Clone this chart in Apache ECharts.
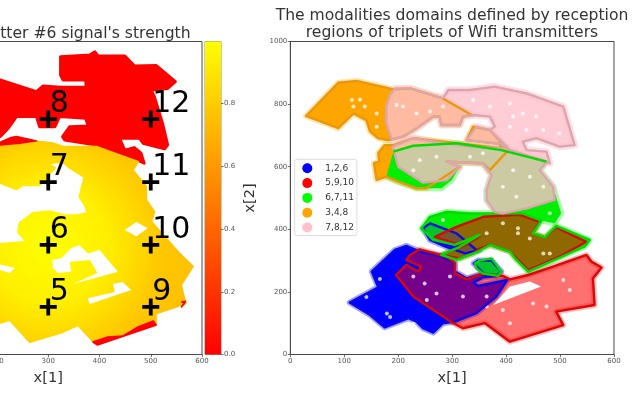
<!DOCTYPE html>
<html>
<head>
<meta charset="utf-8">
<style>
html,body{margin:0;padding:0;background:#fff;overflow:hidden}
#c{width:640px;height:393px;filter:blur(0.35px)}
</style>
<script src="https://cdn.jsdelivr.net/npm/echarts@6/dist/echarts.min.js"></script>
</head>
<body>
<div id="c"></div>
<script>
// ---- left panel: signal strength regions, in data units ----
const weakRegion = [[140,920],[206,877],[277,840],[290,858],[324,854],[374,854],[373,877],[329,877],[324,893],[324,951],[381,957],[391,967],[397,954],[449,954],[468,922],[511,923],[548,872],[533,850],[501,845],[507,824],[523,738],[533,670],[527,657],[485,675],[478,691],[439,691],[449,653],[468,661],[481,643],[487,611],[475,621],[426,648],[394,669],[332,685],[328,696],[342,728],[378,730],[373,755],[322,760],[313,728],[283,728],[277,760],[238,760],[222,723],[206,696],[140,685]];
const weakBumps = [[195,660],[206,675],[228,691],[238,694],[277,680],[283,669],[240,650]];
const strongRegion = [[140,664],[206,664],[245,669],[287,680],[310,674],[329,664],[394,664],[426,645],[475,616],[465,589],[491,536],[491,494],[507,456],[501,424],[556,323],[582,281],[559,222],[568,163],[510,131],[510,100],[391,36],[358,94],[329,72],[264,40],[225,110],[205,100],[140,100],[140,353],[205,353],[258,360],[241,391],[244,420],[270,452],[303,458],[332,445],[355,445],[377,452],[371,478],[361,503],[365,532],[371,567],[342,596],[328,615],[299,611],[313,596],[283,541],[251,541],[238,528],[205,549],[140,549]];
const holeCentre = [[308,302],[326,308],[345,340],[361,350],[377,323],[400,334],[436,264],[348,225],[396,260],[381,302],[342,296],[345,264],[319,260],[309,276]];
const holeLower = [[377,180],[430,200],[426,225],[445,232],[462,206],[381,161]];
const holeUpper = [[449,398],[472,423],[494,403],[472,378]];
const holeLeft = [[195,292],[235,276],[225,260],[195,276]];
const edgeBottom = [[387,40],[396,30],[511,94],[505,107],[475,88],[445,59],[416,56]];
const edgeRight = [[566,164],[560,152],[568,170],[560,168]];
const transmitterX = [300,300,300,300,500,500,500,500];
const transmitterY = [152,350,551,752,152,350,551,752];
const transmitterLabels = ['5','6','7','8','9','10','11','12'];
const strengthCentre = [300,350];
const colorbarTop = 0.998;

// ---- right panel: modality domains, in data units ----
const blueMain = [[110,166],[163,215],[151,265],[194,334],[215,347],[240,329],[283,313],[305,291],[305,265],[327,243],[358,259],[340,291],[348,300],[373,300],[391,265],[382,251],[358,247],[340,230],[348,219],[402,238],[382,185],[345,132],[305,105],[283,100],[265,70],[246,84],[234,105],[219,116],[175,87],[148,126]];
const blueUpper = [[246,403],[259,419],[308,387],[345,334],[351,334],[324,323],[289,344],[259,366]];
const redMain = [[196,254],[215,286],[237,265],[243,281],[215,302],[222,318],[240,336],[289,313],[305,293],[305,259],[327,240],[358,259],[394,251],[407,240],[441,254],[487,281],[549,318],[558,297],[577,278],[561,243],[564,158],[493,137],[506,94],[407,41],[361,100],[320,84],[302,100],[265,142],[228,185]];
const redUpper = [[268,376],[308,408],[358,440],[425,446],[462,424],[450,387],[472,374],[493,406],[549,360],[499,313],[441,270],[407,329],[370,350],[351,339],[339,323],[314,307],[280,318],[317,344],[351,376],[314,350]];
const redGap = [[376,158],[465,217],[444,233],[407,217]];
const greenLower = [[243,403],[259,440],[289,456],[333,451],[382,451],[431,451],[465,428],[450,387],[472,374],[493,411],[555,366],[546,345],[441,265],[419,302],[407,329],[370,350],[348,329],[308,302],[280,318],[314,344],[351,382],[305,350],[265,366]];
const greenUpper = [[191,648],[228,667],[308,675],[391,653],[475,616],[462,589],[487,536],[502,451],[490,419],[465,428],[431,451],[382,451],[364,494],[364,525],[373,574],[357,611],[290,616],[314,600],[299,557],[280,531],[234,531],[200,552],[178,568]];
const greenLoop = [[342,291],[351,300],[373,307],[391,265],[385,251],[357,259],[345,275]];
const orangeUpper = [[29,762],[89,868],[123,874],[191,847],[222,850],[283,818],[336,765],[320,760],[314,733],[280,733],[277,760],[265,760],[234,723],[209,696],[181,685],[163,691],[148,712],[141,749],[117,770],[89,723]];
const orangeLower = [[191,669],[175,669],[163,643],[165,616],[155,611],[160,558],[178,568],[200,552],[234,531],[252,531],[296,579],[314,600],[290,616],[357,611],[370,589],[404,653],[370,717],[339,728],[327,685],[388,673],[391,659],[308,675],[228,691]];
const pinkLeft = [[336,765],[320,760],[314,733],[280,733],[277,760],[265,760],[234,723],[209,696],[188,687],[178,739],[178,792],[185,829],[194,850],[222,850],[283,818]];
const pinkRight = [[283,818],[293,845],[333,845],[379,856],[438,834],[506,792],[527,669],[499,664],[456,691],[431,680],[438,653],[475,648],[481,611],[407,653],[401,664],[370,717],[379,728],[370,760],[336,765]];
const pinkLower = [[190,664],[228,691],[283,675],[333,664],[391,659],[407,653],[475,616],[462,589],[487,536],[490,494],[438,467],[394,451],[379,456],[364,494],[364,525],[373,574],[357,611],[290,616],[314,600],[290,557],[246,549],[200,600]];
const pinkSmall = [[327,685],[345,728],[370,717],[401,664],[388,673]];
const specks = [[129,815],[117,792],[114,813],[138,792],[160,770],[160,728],[197,797],[209,792],[234,770],[259,776],[283,792],[339,813],[370,792],[407,802],[413,760],[431,770],[456,760],[469,717],[499,707],[407,728],[438,717],[413,589],[444,568],[469,536],[394,536],[419,504],[271,632],[240,621],[333,632],[357,643],[228,589],[249,227],[271,195],[320,185],[296,249],[364,185],[228,249],[253,174],[422,403],[444,371],[481,323],[469,323],[394,419],[364,387],[422,387],[407,100],[450,163],[506,238],[518,206],[475,153],[394,142],[364,153],[141,184],[179,131],[166,241],[185,120],[228,99],[481,451],[283,430]];
const legendNames = ['1,2,6','5,9,10','6,7,11','3,4,8','7,8,12'];
const legendColors = ['#0000ff','#ff0000','#00ff00','#ffa500','#ffc0cb'];

const FONT = 'DejaVu Sans';
const DARK = '#4a4a4a';
const TEXT = '#333333';
const TICK = { show:true, length:2.5, lineStyle:{color:DARK,width:0.8} };
const LABEL = { color:'#555555', fontSize:7, fontFamily:FONT, margin:3, formatter:function(v){ return String(v); } };

function polySeries(name, idx, polys, style, open){
  return {
    type:'custom', name, coordinateSystem:'cartesian2d', xAxisIndex:idx, yAxisIndex:idx,
    clip:true, silent:true, z: style.z || 2,
    itemStyle:{ color: style.fill || style.stroke },
    data: polys.map(function(p){ return p[0]; }),
    renderItem:function(params, api){
      const pts = polys[params.dataIndex].map(function(p){ return api.coord(p); });
      const fill = style.fillFn ? style.fillFn(api) : style.fill;
      const stroke = style.fillFn ? fill : style.stroke;
      const type = open ? 'polyline' : 'polygon';
      return { type, shape:{points:pts}, style:{
        fill: open ? null : (fill || null),
        stroke: stroke || null,
        lineWidth: style.lineWidth || 0,
        lineJoin:'round',
        opacity: style.opacity === undefined ? 1 : style.opacity
      } };
    }
  };
}
function strengthFill(api){
  const c = api.coord(strengthCentre);
  return new echarts.graphic.RadialGradient(c[0], c[1], 150, [
    {offset:0, color:'#ffff00'},
    {offset:0.4, color:'#ffee00'},
    {offset:0.75, color:'#ffc800'},
    {offset:1, color:'#ffc000'}
  ], true);
}
const blueAll = [blueMain, blueUpper], redAll = [redMain, redUpper], greenAll = [greenLower, greenUpper];
const orangeAll = [orangeUpper, orangeLower], pinkAll = [pinkLeft, pinkRight, pinkLower, pinkSmall];

const series = [
  // left panel
  polySeries('weak', 0, [weakRegion, weakBumps], {fill:'#ff0000', stroke:'#ff0000', lineWidth:3}),
  polySeries('strong', 0, [strongRegion], {fillFn:strengthFill, lineWidth:2, z:3}),
  polySeries('holes', 0, [holeCentre, holeLower, holeUpper, holeLeft], {fill:'#ffffff', z:4}),
  polySeries('edge', 0, [edgeBottom, edgeRight], {fill:'#ff0000', stroke:'#ff0000', lineWidth:1.5, z:4}),
  {
    type:'scatter', xAxisIndex:0, yAxisIndex:0, name:'transmitters', z:6, silent:true,
    data: transmitterX.map(function(x,i){ return {value:[x, transmitterY[i]], label:{formatter:transmitterLabels[i]}}; }),
    symbol:'path://M7 0h4v7h7v4h-7v7h-4v-7h-7v-4h7z', symbolSize:17,
    itemStyle:{color:'#000', opacity:1},
    label:{show:true, position:[10,8.5], align:'left', verticalAlign:'bottom', fontSize:30, fontFamily:FONT, color:'#000'}
  },
  // colourbar
  {
    type:'bar', xAxisIndex:1, yAxisIndex:1, name:'strength', silent:true, barWidth:'100%',
    data:[colorbarTop],
    itemStyle:{color:new echarts.graphic.LinearGradient(0,1,0,0,[{offset:0,color:'#ff0000'},{offset:1,color:'#ffff00'}])}
  },
  // right panel soft halos
  polySeries('blueHalo', 2, blueAll, {stroke:'#0000ff', lineWidth:6, opacity:0.35, z:1}),
  polySeries('redHalo', 2, redAll, {stroke:'#ff0000', lineWidth:6, opacity:0.25, z:1}),
  polySeries('greenHalo', 2, greenAll, {stroke:'#00ff00', lineWidth:6, opacity:0.35, z:1}),
  polySeries('orangeHalo', 2, orangeAll, {stroke:'#ffa500', lineWidth:6, opacity:0.3, z:1}),
  polySeries('pinkHalo', 2, pinkAll, {stroke:'#ffc0cb', lineWidth:7, opacity:0.5, z:1}),
  // right panel fills
  polySeries(legendNames[3], 2, orangeAll, {fill:'#ffa500'}),
  polySeries(legendNames[0], 2, blueAll, {fill:'#0000ff', z:3}),
  polySeries(legendNames[2], 2, greenAll.concat([greenLoop]), {fill:'#00ee00', z:4}),
  polySeries(legendNames[1], 2, redAll, {fill:'#ff0000', opacity:0.56, z:5}),
  polySeries('blueTint', 2, blueAll, {fill:'#0000ff', opacity:0.18, z:5.5}),
  polySeries('redGap', 2, [redGap], {fill:'#ffffff', z:5.6}),
  polySeries(legendNames[4], 2, pinkAll, {fill:'#ffc0cb', opacity:0.8, z:6}),
  { type:'scatter', xAxisIndex:2, yAxisIndex:2, name:'gaps', silent:true, z:7,
    data:specks, symbolSize:4, itemStyle:{color:'#ffffff', opacity:0.75} },
  // right panel outlines
  polySeries('blueLine', 2, blueAll, {stroke:'#0a0ae6', lineWidth:2.4, z:8}),
  polySeries('redLine', 2, redAll, {stroke:'#d80808', lineWidth:2.4, z:9}),
  polySeries('greenLine', 2, [greenLower, greenLoop], {stroke:'#00dc00', lineWidth:2.4, z:10}),
  polySeries('orangeLine', 2, orangeAll, {stroke:'#e8980a', lineWidth:2.4, z:11}),
  polySeries('pinkLine', 2, [pinkLeft, pinkRight], {stroke:'#dba6ae', lineWidth:2.4, z:12}, true),
  polySeries('pinkLineLow', 2, [pinkLower, pinkSmall], {stroke:'#dba6ae', lineWidth:2.4, z:12}),
  polySeries('greenLineUp', 2, [greenUpper.slice(0,5)], {stroke:'#00dc00', lineWidth:2.4, z:13}, true)
];

const chart = echarts.init(document.getElementById('c'), null, {renderer:'canvas', width:640, height:393});
chart.setOption({
  animation:false,
  backgroundColor:'#ffffff',
  title:[
    { text:"Wifi transmitter #6 signal's strength", left:43.5, top:21, textAlign:'center',
      textStyle:{fontFamily:FONT, fontSize:15.6, fontWeight:'normal', color:TEXT} },
    { text:'The modalities domains defined by reception\nregions of triplets of Wifi transmitters', left:447, top:2, textAlign:'center',
      textStyle:{fontFamily:FONT, fontSize:15.6, fontWeight:'normal', color:TEXT, lineHeight:17} }
  ],
  legend:{
    orient:'vertical', left:294.7, top:159.3, padding:[4,3,3,7.6], itemWidth:10, itemHeight:10, itemGap:4.8, z:20,
    backgroundColor:'rgba(255,255,255,0.8)', borderColor:'#dddddd', borderWidth:1, borderRadius:2,
    selectedMode:false,
    textStyle:{fontFamily:FONT, fontSize:9, color:TEXT, padding:[0,0,0,8]},
    data: legendNames.map(function(n,i){ return {name:n, icon:'circle', itemStyle:{color:legendColors[i], opacity:1}}; })
  },
  grid:[
    { left:-105.5, width:307.5, top:41.5, height:313, show:true, borderColor:DARK, borderWidth:1, backgroundColor:'#fff', outerBoundsMode:'none' },
    { left:205, width:16, top:41.5, height:313, show:true, borderColor:'#777', borderWidth:0.8, outerBoundsMode:'none' },
    { left:290.3, width:323.7, top:41.5, height:313, show:true, borderColor:DARK, borderWidth:1, backgroundColor:'#fff', outerBoundsMode:'none' }
  ],
  xAxis:[
    { gridIndex:0, type:'value', min:0, max:600, interval:100, splitLine:{show:false},
      axisLine:{show:true,onZero:false,lineStyle:{color:DARK}}, axisTick:TICK, axisLabel:LABEL,
      name:'x[1]', nameLocation:'middle', nameGap:16, nameTextStyle:{fontFamily:FONT,fontSize:14.6,color:TEXT} },
    { gridIndex:1, type:'category', data:[''], show:false },
    { gridIndex:2, type:'value', min:0, max:600, interval:100, splitLine:{show:false},
      axisLine:{show:true,onZero:false,lineStyle:{color:DARK}}, axisTick:TICK, axisLabel:LABEL,
      name:'x[1]', nameLocation:'middle', nameGap:16, nameTextStyle:{fontFamily:FONT,fontSize:14.6,color:TEXT} }
  ],
  yAxis:[
    { gridIndex:0, type:'value', min:0, max:1000, interval:200, splitLine:{show:false},
      axisLine:{show:true,onZero:false,lineStyle:{color:DARK}}, axisTick:TICK, axisLabel:LABEL },
    { gridIndex:1, type:'value', min:0, max:colorbarTop, interval:0.2, position:'right', splitLine:{show:false},
      axisLine:{show:false}, axisTick:TICK, axisLabel:Object.assign({}, LABEL, {showMaxLabel:false, formatter:function(v){return v.toFixed(1);}}) },
    { gridIndex:2, type:'value', min:0, max:1000, interval:200, splitLine:{show:false},
      axisLine:{show:true,onZero:false,lineStyle:{color:DARK}}, axisTick:TICK, axisLabel:LABEL,
      name:'x[2]', nameLocation:'middle', nameGap:33, nameTextStyle:{fontFamily:FONT,fontSize:14.6,color:TEXT} }
  ],
  series
});
</script>
</body>
</html>
